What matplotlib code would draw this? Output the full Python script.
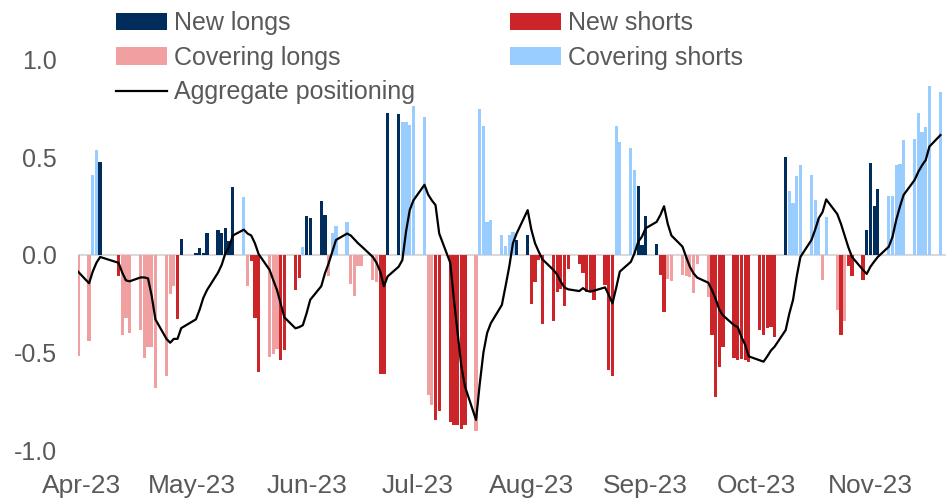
import matplotlib
matplotlib.use('Agg')
import matplotlib.pyplot as plt
import matplotlib.dates as mdates
from matplotlib.ticker import FormatStrFormatter
import numpy as np
import pandas as pd

# business days shown (2023), flow bar per day, its category and the aggregate line
dates = ['03-31', '04-03', '04-04', '04-05', '04-06', '04-11', '04-12', '04-13', '04-14',
         '04-17', '04-18', '04-19', '04-20', '04-21', '04-24', '04-25', '04-26', '04-27', '04-28',
         '05-02', '05-03', '05-04', '05-05', '05-08', '05-09', '05-10', '05-11', '05-12',
         '05-15', '05-16', '05-17', '05-18', '05-19', '05-22', '05-23', '05-24', '05-25', '05-26',
         '05-29', '05-30', '05-31', '06-01', '06-02', '06-05', '06-06', '06-07', '06-08', '06-09',
         '06-12', '06-13', '06-14', '06-15', '06-16', '06-19', '06-20', '06-21', '06-22', '06-23',
         '06-26', '06-27', '06-28', '06-29', '06-30', '07-03', '07-04', '07-05', '07-06', '07-07',
         '07-10', '07-11', '07-12', '07-13', '07-14', '07-17', '07-18', '07-19', '07-20', '07-21',
         '07-24', '07-25', '07-26', '07-27', '07-28', '07-31', '08-01', '08-02', '08-03', '08-04',
         '08-07', '08-08', '08-09', '08-10', '08-11', '08-14', '08-15', '08-16', '08-17', '08-18',
         '08-21', '08-22', '08-23', '08-24', '08-25', '08-28', '08-29', '08-30', '08-31', '09-01',
         '09-04', '09-05', '09-06', '09-07', '09-08', '09-11', '09-12', '09-13', '09-14', '09-15',
         '09-18', '09-19', '09-20', '09-21', '09-22', '09-25', '09-26', '09-27', '09-28', '09-29',
         '10-02', '10-03', '10-04', '10-05', '10-06', '10-09', '10-10', '10-11', '10-12', '10-13',
         '10-16', '10-17', '10-18', '10-19', '10-20', '10-23', '10-24', '10-25', '10-26', '10-27',
         '10-30', '10-31', '11-01', '11-02', '11-03', '11-06', '11-07', '11-08', '11-09', '11-10',
         '11-13', '11-14', '11-15', '11-16', '11-17', '11-20']

kind = ['CL', 'CL', 'CS', 'CS', 'NL', 'NS', 'CL', 'CL', 'CL',
        'CL', 'CL', 'CL', 'CL', 'CL', 'CL', 'CL', 'CL', 'NS', 'NL',
        'NL', 'NL', 'NL', 'NL', 'NL', 'NL', 'NL', 'NL', 'NL',
        'CS', 'CL', 'NS', 'NS', 'NS', 'CL', 'CL', 'CL', 'NS', 'NS',
        'NS', 'NS', 'CS', 'NL', 'NL', 'NL', 'NL', 'CL', 'CS', 'CS',
        'CS', 'CL', 'CL', 'CL', 'CL', 'CL', 'CL', 'NS', 'NS', 'NL',
        'NL', 'CS', 'CS', 'CS', 'CS', 'CS', 'CL', 'CL', 'NS', 'NS',
        'NS', 'NS', 'NS', 'NS', 'NS', 'CL', 'CS', 'CS', 'CS', 'CS',
        'CS', 'CS', 'CS', 'CS', 'NL', 'NL', 'NS', 'NS', 'NS', 'NS',
        'NS', 'NS', 'NS', 'NS', 'NS', 'NS', 'NS', 'NS', 'NS', 'NS',
        'NS', 'NS', 'NS', 'CS', 'CS', 'CS', 'CS', 'NL', 'NL', 'NL',
        'NL', 'NS', 'NS', 'CL', 'CL', 'CL', 'CL', 'CL', 'CL', 'CL',
        'CL', 'NS', 'NS', 'NS', 'NS', 'NS', 'NS', 'NS', 'NS', 'NS',
        'NS', 'NS', 'NS', 'NS', 'NS', 'NL', 'CS', 'CS', 'CS', 'CS',
        'CS', 'CS', 'CS', 'CL', 'CS', 'CL', 'NS', 'CL', 'NS', 'NS',
        'NS', 'NL', 'NL', 'NL', 'NL', 'CS', 'CS', 'CS', 'CS', 'CS',
        'CS', 'CS', 'CS', 'CS', 'CS', 'CS']

flow = [-0.52, -0.44, 0.41, 0.54, 0.475, -0.11, -0.41, -0.325, -0.40,
        -0.385, -0.53, -0.47, -0.47, -0.68, -0.62, -0.20, -0.16, -0.33, 0.08,
        0.01, 0.035, 0.012, 0.115, 0.13, 0.115, 0.137, 0.07, 0.347,
        0.296, -0.16, -0.03, -0.325, -0.60, -0.525, -0.51, -0.48, -0.54, -0.485,
        -0.18, -0.12, 0.04, 0.20, 0.19, 0.277, 0.205, -0.11, 0.115, 0.15,
        0.17, -0.15, -0.21, -0.055, -0.055, -0.13, -0.137, -0.61, -0.61, 0.727,
        0.723, 0.68, 0.68, 0.665, 0.765, 0.71, -0.72, -0.77, -0.846, -0.80,
        -0.855, -0.87, -0.87, -0.89, -0.87, -0.90, 0.75, 0.66, 0.17, 0.18,
        0.10, 0.045, 0.10, 0.12, 0.077, 0.10, -0.25, -0.137, -0.025, -0.354,
        -0.34, -0.19, -0.176, -0.26, -0.07, -0.046, -0.094, -0.19, -0.19, -0.23,
        -0.154, -0.59, -0.62, 0.66, 0.58, 0.547, 0.436, 0.354, 0.05, 0.20,
        0.056, -0.10, -0.294, -0.125, -0.133, -0.10, -0.108, -0.115, -0.197, -0.046,
        -0.214, -0.41, -0.727, -0.573, -0.473, -0.53, -0.54, -0.535, -0.54, -0.55,
        -0.385, -0.41, -0.376, -0.368, -0.42, 0.50, 0.33, 0.268, 0.405, 0.46,
        0.41, 0.28, 0.19, -0.128, 0.193, -0.28, -0.41, -0.34, -0.056, -0.11,
        -0.128, 0.128, 0.473, 0.25, 0.34, 0.30, 0.30, 0.46, 0.467, 0.59,
        0.593, 0.726, 0.632, 0.658, 0.867, 0.837]

agg = [-0.085, -0.145, -0.085, -0.04, -0.01, -0.04, -0.09, -0.13, -0.135,
       -0.115, -0.115, -0.12, -0.21, -0.33, -0.43, -0.45, -0.43, -0.43, -0.375,
       -0.33, -0.28, -0.22, -0.18, -0.09, -0.05, 0.01, 0.04, 0.10,
       0.13, 0.11, 0.10, 0.06, 0.005, -0.077, -0.13, -0.18, -0.25, -0.32,
       -0.376, -0.37, -0.36, -0.30, -0.23, -0.16, -0.094, -0.043, 0.017, 0.077,
       0.11, 0.10, 0.08, 0.06, 0.043, -0.01, -0.04, -0.085, -0.16, -0.11,
       -0.06, -0.026, 0.12, 0.23, 0.28, 0.36, 0.31, 0.28, 0.256, 0.11,
       -0.04, -0.23, -0.40, -0.57, -0.675, -0.846, -0.66, -0.50, -0.40, -0.35,
       -0.256, -0.16, -0.06, 0.06, 0.11, 0.23, 0.13, 0.06, 0.017, -0.022,
       -0.077, -0.10, -0.137, -0.167, -0.176, -0.185, -0.17, -0.183, -0.188, -0.183,
       -0.166, -0.205, -0.248, -0.17, -0.085, -0.035, 0.01, 0.068, 0.094, 0.137,
       0.17, 0.205, 0.25, 0.16, 0.10, 0.043, -0.01, -0.06, -0.094, -0.116,
       -0.142, -0.18, -0.225, -0.28, -0.31, -0.36, -0.37, -0.42, -0.46, -0.52,
       -0.54, -0.547, -0.52, -0.49, -0.47, -0.385, -0.30, -0.23, -0.11, -0.01,
       0.077, 0.13, 0.19, 0.22, 0.285, 0.21, 0.16, 0.10, 0.04, -0.01,
       -0.077, -0.097, -0.06, -0.034, -0.01, 0.043, 0.094, 0.18, 0.248, 0.308,
       0.385, 0.427, 0.46, 0.487, 0.556, 0.615]

month_ticks = ['2023-04-01', '2023-05-01', '2023-06-01', '2023-07-01',
               '2023-08-01', '2023-09-01', '2023-10-01', '2023-11-01']

names = {'NL': 'New longs', 'NS': 'New shorts', 'CL': 'Covering longs', 'CS': 'Covering shorts'}
colors = {'NL': '#002D5C', 'NS': '#CC2529', 'CL': '#F0A0A0', 'CS': '#99CCFF'}

plt.rcParams['font.family'] = ['Liberation Sans', 'DejaVu Sans']
plt.rcParams['axes.unicode_minus'] = False
grey = '#595959'

fig = plt.figure(figsize=(9.47, 5.0), dpi=100)
ax = fig.add_axes([78 / 947, 50 / 500, 868 / 947, 448.5 / 500])

d = pd.to_datetime(['2023-' + s for s in dates])
flow = np.array(flow)
kind = np.array(kind)

handles = {}
for k in ['NL', 'NS', 'CL', 'CS']:
    m = kind == k
    handles[k] = ax.bar(d[m], flow[m], width=0.88, color=colors[k], label=names[k], zorder=2)
line, = ax.plot(d, agg, color='black', lw=1.6, label='Aggregate positioning', zorder=3)
ax.axhline(0, color='#D9D9D9', lw=1.5, zorder=1)

start = pd.Timestamp('2023-03-31')
ax.set_xlim(start, start + pd.Timedelta(days=235.5))
ax.set_ylim(-1.0, 1.3)
ax.set_yticks([-1.0, -0.5, 0.0, 0.5, 1.0])
ax.yaxis.set_major_formatter(FormatStrFormatter('%.1f'))
ax.set_xticks(pd.to_datetime(month_ticks))
ax.xaxis.set_major_formatter(mdates.DateFormatter('%b-%y'))

for s in ax.spines.values():
    s.set_visible(False)
ax.tick_params(length=0, labelsize=18, colors=grey)
ax.tick_params(axis='x', pad=17, labelsize=19)
ax.tick_params(axis='y', pad=15)

order = [handles['NL'], handles['CL'], line, handles['NS'], handles['CS']]
leg = ax.legend(order, [h.get_label() for h in order], ncol=2, loc='upper left',
                bbox_to_anchor=(116 / 947, 1 - 11 / 500), bbox_transform=fig.transFigure,
                frameon=False, fontsize=18, handlelength=2.03, handletextpad=0.28,
                columnspacing=3.8, labelspacing=0.43, borderpad=0, borderaxespad=0)
for t in leg.get_texts():
    t.set_color(grey)

fig.savefig('out.png', dpi=100)
